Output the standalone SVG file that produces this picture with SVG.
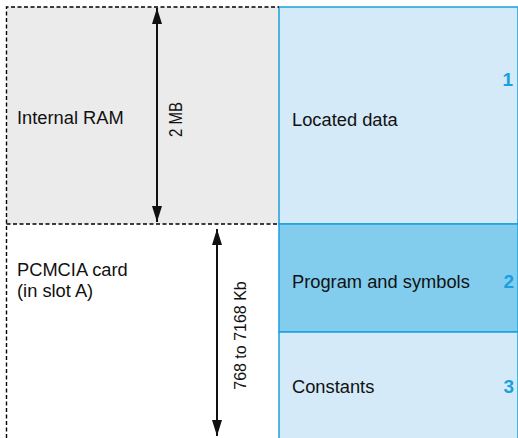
<svg xmlns="http://www.w3.org/2000/svg" width="518" height="438" viewBox="0 0 518 438">
<style>
.lbl{font-family:"Liberation Sans",Arial,sans-serif;font-size:18.3px;fill:#111}
.rot{font-family:"Liberation Sans",Arial,sans-serif;font-size:16px;fill:#111}
.num{font-family:"Liberation Sans",Arial,sans-serif;font-size:19px;font-weight:bold;fill:#1a9fe0;text-anchor:end}
.dash{fill:none;stroke:#000;stroke-width:1.4;stroke-dasharray:4 2.5}
.blue{stroke:#1aa0dc;stroke-width:1.5}
.arr{stroke:#111;stroke-width:2;fill:none}
</style>
<defs>
<marker id="ah" viewBox="0 0 16 10" refX="16" refY="5" markerWidth="16" markerHeight="10" markerUnits="userSpaceOnUse" orient="auto-start-reverse">
<path d="M0,0 L16,5 L0,10 Z" fill="#111"/>
</marker>
</defs>
<g id="internal-ram">
<rect x="6.5" y="7" width="272.5" height="217" fill="#ebebeb"/>
<text class="lbl" x="17" y="124">Internal RAM</text>
</g>
<g id="pcmcia">
<rect x="6.5" y="224" width="272.5" height="214" fill="#ffffff"/>
<text class="lbl" x="17" y="276">PCMCIA card</text>
<text class="lbl" x="17" y="297">(in slot A)</text>
</g>
<g id="located-data">
<rect x="279" y="7" width="239" height="217" fill="#d4eaf8" class="blue"/>
<text class="lbl" x="292" y="126">Located data</text>
<text class="num" x="513" y="86">1</text>
</g>
<g id="program-symbols">
<rect x="279" y="224" width="239" height="108" fill="#82cdee" class="blue"/>
<text class="lbl" x="292" y="288">Program and symbols</text>
<text class="num" x="514" y="288">2</text>
</g>
<g id="constants">
<rect x="279" y="332" width="239" height="110" fill="#d4eaf8" class="blue"/>
<text class="lbl" x="292" y="393">Constants</text>
<text class="num" x="514" y="393">3</text>
</g>
<g id="borders">
<path class="dash" d="M6.5,438 L6.5,7 L279,7"/>
<path class="dash" d="M6.5,224 L279,224"/>
</g>
<g id="connectors">
<line class="arr" x1="157" y1="8" x2="157" y2="222" marker-start="url(#ah)" marker-end="url(#ah)"/>
<line class="arr" x1="217" y1="229" x2="217" y2="436" marker-start="url(#ah)" marker-end="url(#ah)"/>
<text class="rot" style="font-size:18px" transform="translate(182,119.5) rotate(-90)" text-anchor="middle" textLength="35" lengthAdjust="spacingAndGlyphs">2 MB</text>
<text class="rot" transform="translate(245.5,335.5) rotate(-90)" text-anchor="middle">768 to 7168 Kb</text>
</g>
</svg>
